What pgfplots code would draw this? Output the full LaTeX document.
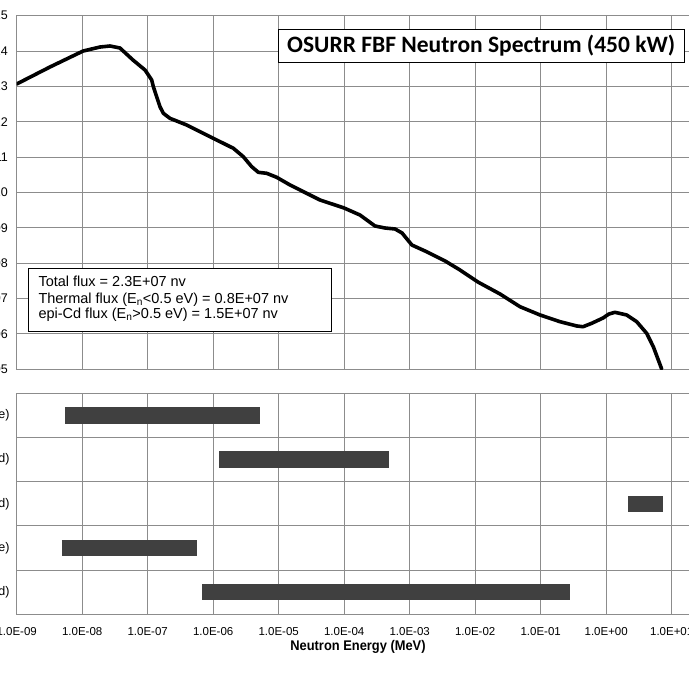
\documentclass[border=0pt]{standalone}
\usepackage{fontspec}
\setmainfont{Liberation Sans}
\newfontfamily\labelnarrow[FakeStretch=0.92]{Liberation Sans}
\newfontfamily\titlefont{Carlito}
\usepackage{pgfplots}
\pgfplotsset{compat=1.18}
\definecolor{gridgray}{HTML}{8C8C8C}
\definecolor{bargray}{HTML}{404040}

\begin{document}
\begin{tikzpicture}[x=1pt,y=1pt]
\begin{axis}[
  at={(16.7pt,318.7pt)}, anchor=south west,
  scale only axis, width=720.5pt, height=353.6pt,
  xmode=log, ymode=log,
  xmin=1e-9, xmax=1e2, ymin=1e5, ymax=1e15,
  xtick={1e-9,1e-8,1e-7,1e-6,1e-5,1e-4,1e-3,1e-2,1e-1,1e0,1e1,1e2},
  xticklabels={},
  ytick={1e5,1e6,1e7,1e8,1e9,1e10,1e11,1e12,1e13,1e14,1e15},
  yticklabels={1.0E+05,1.0E+06,1.0E+07,1.0E+08,1.0E+09,1.0E+10,1.0E+11,1.0E+12,1.0E+13,1.0E+14,1.0E+15},
  xminorticks=false, yminorticks=false,
  grid=major, major grid style={gridgray, line width=1.1pt},
  axis line style={gridgray, line width=1.1pt},
  major tick length=0pt,
  yticklabel style={font=\fontsize{12.5}{14}\selectfont, inner sep=0pt, anchor=east, xshift=-8.7pt},
]
\addplot[black, line width=3.6pt, line join=round, line cap=round] coordinates {
(1e-9,1.17e13) (3.22e-9,3.54e13) (1.03e-8,1.0e14) (1.87e-8,1.30e14) (2.66e-8,1.39e14)
(3.77e-8,1.22e14) (5.96e-8,5.58e13) (9.1e-8,2.91e13) (1.15e-7,1.52e13) (1.22e-7,9.82e12)
(1.37e-7,5.12e12) (1.54e-7,2.67e12) (1.73e-7,1.74e12) (2.19e-7,1.25e12) (3.94e-7,8.11e11)
(6.28e-7,5.24e11) (1.0e-6,3.41e11) (1.43e-6,2.46e11) (2.03e-6,1.78e11) (2.88e-6,1.03e11)
(3.87e-6,5.37e10) (4.89e-6,3.72e10) (6.56e-6,3.49e10) (9.31e-6,2.69e10) (1.49e-5,1.63e10)
(2.67e-5,9.48e9) (4.27e-5,6.14e9) (9.93e-5,3.65e9) (1.74e-4,2.31e9) (2.95e-4,1.13e9)
(4.2e-4,9.9e8) (5.97e-4,9.29e8) (7.64e-4,7.16e8) (1.08e-3,3.27e8) (1.71e-3,2.22e8)
(3.46e-3,1.16e8) (5.86e-3,6.43e7) (1.10e-2,2.94e7) (2.39e-2,1.35e7) (4.83e-2,5.89e6)
(9.75e-2,3.44e6) (0.197,2.22e6) (0.355,1.68e6) (0.443,1.60e6) (0.601,2.0e6)
(0.894,2.82e6) (1.10,3.66e6) (1.36,4.09e6) (2.05,3.44e6) (2.92,2.22e6)
(4.15,1.04e6) (5.24,4.36e5) (7.03,1.02e5)
};
\end{axis}

\begin{axis}[
  at={(16.7pt,73.7pt)}, anchor=south west,
  scale only axis, width=720.5pt, height=221pt,
  xmode=log, xmin=1e-9, xmax=1e2, ymin=-0.5, ymax=4.5,
  xtick={1e-9,1e-8,1e-7,1e-6,1e-5,1e-4,1e-3,1e-2,1e-1,1e0,1e1,1e2},
  xticklabels={1.0E-09,1.0E-08,1.0E-07,1.0E-06,1.0E-05,1.0E-04,1.0E-03,1.0E-02,1.0E-01,1.0E+00,1.0E+01,1.0E+02},
  ytick={0,1,2,3,4},
  yticklabels={Co-59 (Cd-covered),Co-59 (bare),Ni-58 (Cd-covered),Au-197 (Cd-covered),Au-197 (bare)},
  minor ytick={0.5,1.5,2.5,3.5},
  xminorticks=false,
  xmajorgrids, ymajorgrids=false, yminorgrids,
  major grid style={gridgray, line width=1.1pt},
  minor grid style={gridgray, line width=1.1pt},
  axis line style={gridgray, line width=1.1pt},
  major tick length=0pt, minor tick length=0pt,
  xticklabel style={font=\fontsize{11.5}{13}\selectfont, inner sep=0pt, anchor=north, yshift=-13pt},
  yticklabel style={font=\fontsize{12.5}{14}\selectfont, inner sep=0pt, anchor=east, xshift=-7pt},
]
\addplot[bargray, line width=16.4pt] coordinates {(5.5e-9,4) (5.2e-6,4)};
\addplot[bargray, line width=16.4pt] coordinates {(1.24e-6,3) (4.8e-4,3)};
\addplot[bargray, line width=16.4pt] coordinates {(2.17,2) (7.3,2)};
\addplot[bargray, line width=16.4pt] coordinates {(4.9e-9,1) (5.6e-7,1)};
\addplot[bargray, line width=16.4pt] coordinates {(6.75e-7,0) (0.28,0)};
\end{axis}

\node[draw=black, line width=1pt, fill=white, inner sep=0pt,
  minimum width=405.7pt, minimum height=33pt,
  font=\titlefont\bfseries\fontsize{23.5}{27}\selectfont] at (481.2,642.2)
  {OSURR FBF Neutron Spectrum (450 kW)};

\draw[black, line width=1pt, fill=white] (28.3,356.3) rectangle (331.7,419.7);
\node[anchor=west, inner sep=0pt, font=\fontsize{14.5}{17}\selectfont] at (38.3,406.3) {Total flux = 2.3E+07 nv};
\node[anchor=west, inner sep=0pt, font=\fontsize{14.5}{17}\selectfont] at (38.3,388.7) {Thermal flux (E\textsubscript{n}<0.5 eV) = 0.8E+07 nv};
\node[anchor=west, inner sep=0pt, font=\fontsize{14.5}{17}\selectfont] at (38.3,373) {epi-Cd flux (E\textsubscript{n}>0.5 eV) = 1.5E+07 nv};

\node[font=\labelnarrow\bfseries\fontsize{14}{16}\selectfont] at (358,41) {Neutron Energy (MeV)};

\pgfresetboundingbox
\path[use as bounding box] (0,0) rectangle (688,688);
\end{tikzpicture}
\end{document}
